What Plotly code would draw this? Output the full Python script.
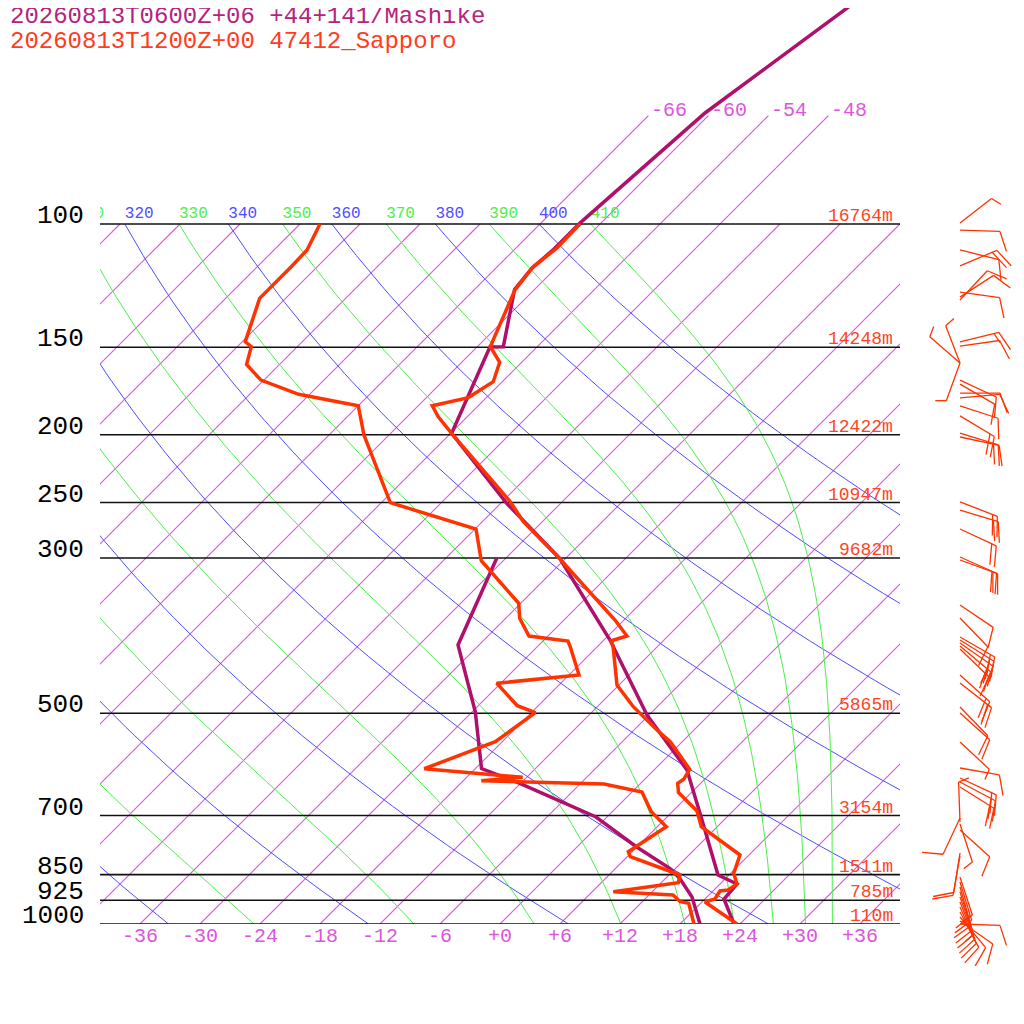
import numpy as np
import plotly.graph_objects as go

# skew-T geometry: x = T + SKEW * ln(1000/p), 304 px per ln unit of pressure
SKEW = 30.4
P_TOP = 1000 * np.exp(-916 / 304)
P_BOT = 1000 * np.exp(100 / 304)

# Sapporo 47412, 12Z
sap_t_p = [100.0, 108.3, 115.1, 124.3, 149.7, 157.6, 168.0, 177.0, 181.8, 188.5, 199.1, 249.3,
           266.2, 301.0, 367.9, 387.8, 393.8, 400.7, 455.6, 489.3, 528.3, 549.0, 601.2, 621.3,
           629.5, 648.9, 689.6, 726.1, 797.0, 846.4, 876.7, 894.2, 897.1, 921.1, 930.2, 1000.0]
sap_t = [-62.0, -61.9, -62.4, -61.9, -58.7, -56.2, -54.9, -55.8, -58.6, -56.9, -53.9, -41.2,
         -37.9, -30.5, -18.9, -16.1, -17.2, -16.5, -12.2, -8.4, -3.7, -1.2, 3.5, 3.9,
         3.7, 4.7, 8.4, 10.4, 17.1, 18.3, 19.7, 19.4, 18.7, 19.0, 18.3, 23.7]
sap_td_p = [100.0, 108.9, 115.1, 127.7, 147.3, 149.7, 158.7, 167.1, 175.1, 181.8, 200.2, 250.1,
            272.7, 302.7, 348.2, 365.8, 387.8, 394.2, 401.7, 440.8, 453.0, 487.7, 499.0, 549.0,
            600.0, 617.2, 624.1, 631.0, 647.8, 691.2, 726.1, 788.3, 801.4, 851.1, 872.9, 899.2,
            909.0, 929.3, 934.2, 1000.0]
sap_td = [-88.0, -86.7, -86.6, -86.6, -83.7, -82.6, -81.3, -78.3, -73.1, -66.0, -62.5, -53.1,
          -41.9, -38.2, -30.2, -28.6, -25.9, -21.5, -20.7, -17.0, -24.4, -20.1, -17.6, -18.7,
          -23.1, -12.4, -16.2, -3.6, 1.0, 3.9, 6.9, 5.6, 6.3, 13.1, 13.7, 8.1,
          14.4, 15.8, 16.8, 19.4]

# Mashike model point, 06Z+06
mas_t_p = [47.85, 69.4, 99.7, 108.9, 115.7, 124.0, 149.7, 149.9, 199.1, 250.6, 300.3, 392.9,
           502.8, 602.6, 710.3, 851.1, 876.7, 921.1, 1000.0]
mas_t = [-56.6, -60.6, -62.1, -62.1, -62.4, -62.0, -57.4, -58.7, -53.9, -41.4, -30.6, -17.4,
         -6.2, 3.3, 9.8, 16.9, 19.7, 19.9, 23.4]
mas_td_p = [300.3, 399.4, 497.4, 599.6, 627.8, 703.3, 775.5, 832.6, 860.4, 915.0, 1000.0]
mas_td = [-36.9, -32.1, -23.7, -17.4, -12.4, -1.1, 5.9, 11.4, 13.4, 16.5, 20.0]

# standard levels and Sapporo heights
levels = [100, 150, 200, 250, 300, 500, 700, 850, 925, 1000]
heights = [16764, 14248, 12422, 10947, 9682, 5865, 3154, 1511, 785, 110]

# Sapporo winds (hPa, deg, kt)
wind_p = [99.7, 102.0, 108.9, 114.8, 125.1, 127.2, 128.4, 147.4, 149.4, 158.0, 158.0, 158.0,
          167.1, 169.3, 174.4, 177.2, 181.9, 188.0, 199.0, 201.5, 249.5, 256.2, 272.7, 299.0,
          302.0, 350.2, 365.5, 389.0, 392.9, 396.8, 400.7, 404.7, 440.8, 452.6, 489.8, 499.5,
          549.5, 598.6, 618.6, 626.8, 637.2, 705.6, 715.0, 719.7, 734.0, 791.7, 799.5,
          856.8, 870.9, 885.4, 900.1, 915.0, 930.2, 945.6, 961.3, 977.2, 990.2, 1000.0]
wind_dir = [232, 272, 284, 247, 278, 237, 223, 256, 262, 159, 131, 20,
            295, 300, 270, 265, 288, 301, 287, 282, 291, 287, 295, 294,
            290, 304, 316, 300, 302, 305, 310, 314, 312, 308, 316, 312,
            313, 280, 295, 298, 302, 25, 178, 342, 312, 9, 10,
            342, 343, 344, 342, 340, 338, 336, 332, 320, 305, 272]
wind_kt = [5, 10, 10, 20, 10, 10, 10, 15, 10, 5, 5, 5,
           10, 10, 10, 10, 10, 20, 20, 10, 20, 20, 20, 20,
           20, 10, 10, 20, 20, 20, 20, 15, 20, 20, 10, 10,
           5, 10, 20, 20, 20, 10, 5, 5, 10, 10, 10,
           10, 15, 10, 10, 10, 15, 10, 10, 10, 10, 10]

MONO = "Liberation Mono"
RED = "#ff3300"
MAS = "#b0106a"
BLUE = "#4d4dff"
GREEN = "#4cef4c"
PURPLE = "#dd55dd"


def skew_x(t, p):
    return np.asarray(t, dtype=float) + SKEW * np.log(1000.0 / np.asarray(p, dtype=float))


def theta_e_sat(tk, p):
    tc = tk - 273.15
    es = np.minimum(6.112 * np.exp(17.67 * tc / (tc + 243.5)), 0.5 * p)
    r = 622.0 * es / (p - es)
    return tk * (1000.0 / p) ** (0.2854 * (1 - 0.00028 * r)) * \
        np.exp((3.376 / tk - 0.00254) * r * (1 + 0.00081 * r))


def moist_temp(thetae, p):
    lo = np.full_like(p, 140.0)
    hi = np.full_like(p, 330.0)
    for _ in range(60):
        mid = 0.5 * (lo + hi)
        over = theta_e_sat(mid, p) > thetae
        hi = np.where(over, mid, hi)
        lo = np.where(over, lo, mid)
    return 0.5 * (lo + hi) - 273.15


def joined(segs):
    xs, ys = [], []
    for x, y in segs:
        xs += [float(v) for v in x] + [None]
        ys += [float(v) for v in y] + [None]
    return xs, ys


fig = go.Figure()
pg = np.geomspace(1000, 100, 90)

# isotherms, each sampled along pressure
iso = []
for t in range(-108, 43, 6):
    top = 70 if -66 <= t <= -48 else 100
    pp = np.geomspace(1000, top, 12)
    iso.append((skew_x(np.full(pp.size, float(t)), pp), pp))
xs, ys = joined(iso)
fig.add_trace(go.Scatter(x=xs, y=ys, mode="lines", line=dict(color=PURPLE, width=1.1)))

# dry adiabats
dry, dry_lab = [], []
for th in range(240, 401, 20):
    t = th * (pg / 1000.0) ** 0.286 - 273.15
    dry.append((skew_x(t, pg), pg))
    dry_lab.append((skew_x(t[-1], 100), str(th)))
xs, ys = joined(dry)
fig.add_trace(go.Scatter(x=xs, y=ys, mode="lines", line=dict(color=BLUE, width=1)))

# moist adiabats
wet, wet_lab = [], []
for the in range(250, 411, 20):
    t = moist_temp(float(the), pg)
    wet.append((skew_x(t, pg), pg))
    wet_lab.append((skew_x(t[-1], 100), str(the)))
xs, ys = joined(wet)
fig.add_trace(go.Scatter(x=xs, y=ys, mode="lines", line=dict(color=GREEN, width=1)))

# adiabat labels just above the 100 hPa line
lab_p = 100 * np.exp(-2 / 304)
for labs, col in ((dry_lab, BLUE), (wet_lab, GREEN)):
    fig.add_trace(go.Scatter(
        x=[float(v[0]) for v in labs], y=[lab_p] * len(labs), mode="text",
        text=[v[1] for v in labs], textposition="top right",
        textfont=dict(family=MONO, size=16, color=col), cliponaxis=True))

# pressure lines
xs, ys = joined([([-40, 40], [p, p]) for p in levels])
fig.add_trace(go.Scatter(x=xs, y=ys, mode="lines", line=dict(color="#111111", width=1.6)))

# profiles
for pp, tt, col in ((mas_td_p, mas_td, MAS), (mas_t_p, mas_t, MAS),
                    (sap_td_p, sap_td, RED), (sap_t_p, sap_t, RED)):
    fig.add_trace(go.Scatter(x=skew_x(tt, pp), y=pp, mode="lines",
                             line=dict(color=col, width=3.5)))

# wind barbs, drawn in pixel offsets on a side axis
L, FULL, HALF, GAP = 40.0, 21.0, 11.0, 5.0
bx, by = [], []
for p0, d, s in zip(wind_p, wind_dir, wind_kt):
    b = np.radians((d + 180) % 360)
    u = np.array([np.sin(b), -np.cos(b)])
    a = np.radians(70)
    v = np.array([u[0] * np.cos(a) - u[1] * np.sin(a), u[0] * np.sin(a) + u[1] * np.cos(a)])
    pts = [[(0.0, 0.0), tuple(L * u)]]
    pos = L
    for _ in range(s // 10):
        base = pos * u
        pts.append([tuple(base), tuple(base + FULL * v)])
        pos -= GAP
    if s % 10 >= 5:
        base = pos * u
        pts.append([tuple(base), tuple(base + HALF * v)])
    for seg in pts:
        for px, py in seg:
            bx.append(float(60 + px))
            by.append(float(p0 * np.exp(py / 304.0)))
        bx.append(None)
        by.append(None)
fig.add_trace(go.Scatter(x=bx, y=by, mode="lines", xaxis="x2", yaxis="y2",
                         line=dict(color=RED, width=1.3)))


def py_paper(sy):
    return (1024 - sy) / 1016


ann = []
for p, h in zip(levels, heights):
    ann.append(dict(x=-14 / 924, xref="paper", y=np.log10(p), yref="y", text=str(p),
                    xanchor="right", yanchor="middle", yshift=8, showarrow=False,
                    font=dict(family=MONO, size=26, color="#000000")))
    ann.append(dict(x=795 / 924, xref="paper", y=np.log10(p), yref="y", text=f"{h}m",
                    xanchor="right", yanchor="middle", yshift=8, showarrow=False,
                    font=dict(family=MONO, size=18, color="#ff4422")))
for t in range(-66, -47, 6):
    ann.append(dict(x=float(skew_x(t, 70)), xref="x", y=np.log10(70), yref="y",
                    text=f"{t}", xanchor="left", yanchor="middle", xshift=1, yshift=5,
                    showarrow=False, font=dict(family=MONO, size=20, color="#dd55dd")))
ann.append(dict(x=-92 / 924, xref="paper", y=py_paper(17), yref="paper",
                text="20260813T0600Z+06 +44+141/Mashike", xanchor="left", yanchor="middle",
                showarrow=False, font=dict(family=MONO, size=24, color="#b4237f")))
ann.append(dict(x=-92 / 924, xref="paper", y=py_paper(41), yref="paper",
                text="20260813T1200Z+00 47412_Sapporo", xanchor="left", yanchor="middle",
                showarrow=False, font=dict(family=MONO, size=24, color="#ff3c1e")))

ticks = list(range(-36, 37, 6))
fig.update_layout(
    width=1016, height=1016, margin=dict(l=92, r=0, t=0, b=0),
    paper_bgcolor="white", plot_bgcolor="white", showlegend=False, hovermode=False,
    xaxis=dict(domain=[0, 800 / 924], range=[-40, 40], anchor="y", showgrid=False,
               zeroline=False, showline=False, ticks="", tickvals=ticks,
               ticktext=[f"+{t}" if t >= 0 else f"{t}" for t in ticks],
               ticklabelstandoff=-3,
               tickfont=dict(family=MONO, size=20, color="#dd55dd")),
    yaxis=dict(type="log", domain=[100 / 1016, 1], range=[3, np.log10(P_TOP)],
               anchor="x", showgrid=False, zeroline=False, showline=False,
               showticklabels=False, ticks=""),
    xaxis2=dict(domain=[800 / 924, 1], range=[0, 124], anchor="y2", visible=False),
    yaxis2=dict(type="log", domain=[0, 1], range=[np.log10(P_BOT), np.log10(P_TOP)],
                anchor="x2", visible=False),
    annotations=ann,
)

fig.write_html("out.html")
